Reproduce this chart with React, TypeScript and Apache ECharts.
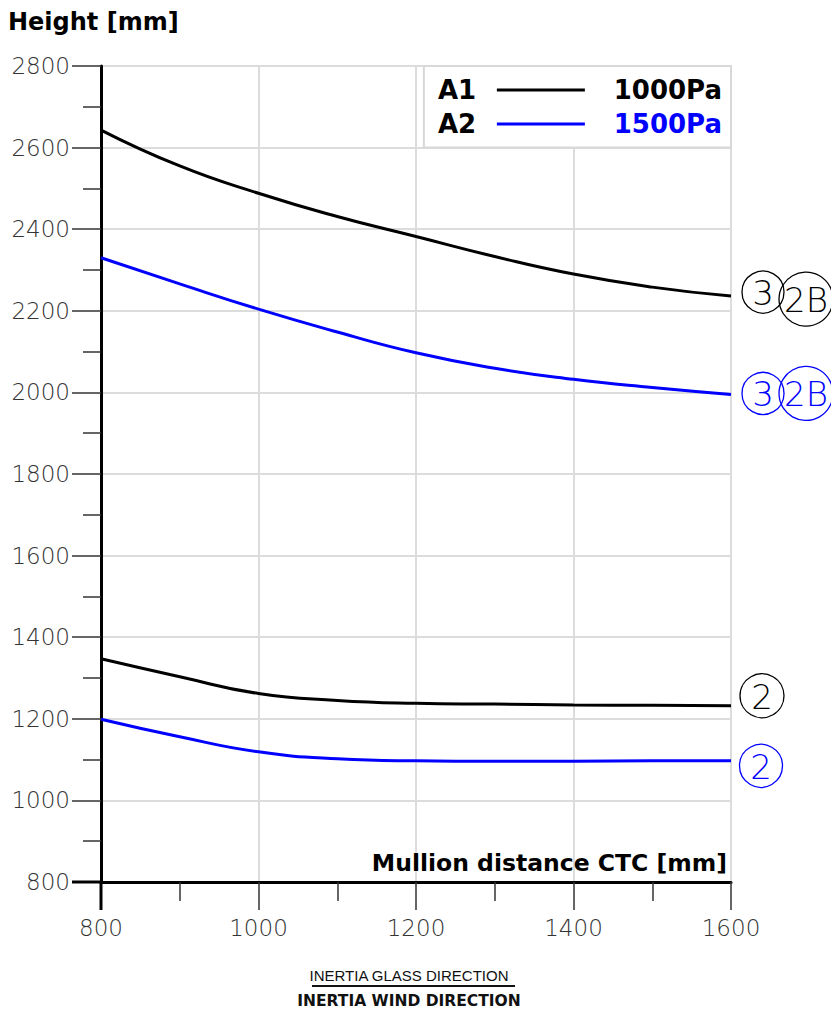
import React, { useEffect, useRef } from "react";
import * as echarts from "echarts";

const X_VALUES = [800, 900, 1000, 1100, 1200, 1300, 1400, 1500, 1600];
const A1_3_2B = [2643, 2555, 2488, 2431, 2382, 2333, 2290, 2258, 2236];
const A2_3_2B = [2330, 2266, 2204, 2148, 2097, 2059, 2032, 2012, 1995];
const A1_2 = [1347, 1303, 1262, 1245, 1238, 1236, 1234, 1233, 1232];
const A2_2 = [1199, 1156, 1119, 1102, 1097, 1096, 1096, 1097, 1097];

const BLACK = "#000000";
const BLUE = "#0000ff";

const LEGEND_ROWS = [
  { name: "A1", value: "1000Pa", color: BLACK },
  { name: "A2", value: "1500Pa", color: BLUE },
];

const END_TAGS = [
  { data: A1_3_2B, color: BLACK, tags: [{ t: "3", dx: 32, dy: -4, r: 21 }, { t: "2B", dx: 75, dy: 3, r: 27 }] },
  { data: A2_3_2B, color: BLUE, tags: [{ t: "3", dx: 32, dy: -1, r: 21 }, { t: "2B", dx: 75, dy: -1, r: 27 }] },
  { data: A1_2, color: BLACK, tags: [{ t: "2", dx: 31, dy: -10, r: 22 }] },
  { data: A2_2, color: BLUE, tags: [{ t: "2", dx: 30, dy: 5, r: 21.5 }] },
];

const TICK_FONT = "'DejaVu Sans', sans-serif";
const BOLD_FONT = "'DejaVu Sans', Verdana, sans-serif";

export default function App() {
  const ref = useRef<HTMLDivElement>(null);
  useEffect(() => {
    if (!ref.current) return;
    const chart = echarts.init(ref.current, undefined, { renderer: "svg" });
    const mk = (data: number[], color: string) => ({
      type: "line",
      data: X_VALUES.map((x, i) => [x, data[i]]),
      smooth: 0.5,
      symbol: "none",
      lineStyle: { color, width: 3 },
      z: 5,
    });
    const axisCommon = {
      type: "value",
      axisLine: { show: true, onZero: false, lineStyle: { color: "#000", width: 3 } },
      axisTick: { show: true, lineStyle: { color: "#333", width: 1.5 } },
      minorTick: { show: true, splitNumber: 2, lineStyle: { color: "#333", width: 1.5 } },
      splitLine: { show: true, lineStyle: { color: "#dcdcdc", width: 2 } },
      minorSplitLine: { show: false },
      axisLabel: {
        color: "#333",
        fontFamily: TICK_FONT,
        fontWeight: 200,
        fontSize: 23,
        formatter: (v: number) => String(v),
      },
    };
    chart.setOption({
      animation: false,
      backgroundColor: "#fff",
      grid: { left: 101, right: 100, top: 66, bottom: 127, containLabel: false },
      xAxis: {
        ...axisCommon,
        min: 800,
        max: 1600,
        interval: 200,
        axisTick: { ...axisCommon.axisTick, length: 28 },
        minorTick: { ...axisCommon.minorTick, length: 19 },
        axisLabel: { ...axisCommon.axisLabel, margin: 34 },
      },
      yAxis: {
        ...axisCommon,
        min: 800,
        max: 2800,
        interval: 200,
        axisTick: { ...axisCommon.axisTick, length: 29 },
        minorTick: { ...axisCommon.minorTick, length: 18 },
        axisLabel: { ...axisCommon.axisLabel, margin: 31 },
      },
      series: [mk(A1_3_2B, BLACK), mk(A2_3_2B, BLUE), mk(A1_2, BLACK), mk(A2_2, BLUE)],
    });

    const px = (x: number, y: number) => chart.convertToPixel({ gridIndex: 0 }, [x, y]) as number[];
    const graphics: any[] = [];
    const origin = px(800, 800);
    const topRight = px(1600, 2800);
    graphics.push({ type: "line", shape: { x1: origin[0] - 29, y1: origin[1], x2: origin[0], y2: origin[1] }, style: { stroke: "#000", lineWidth: 3 }, z: 10 });
    graphics.push({ type: "line", shape: { x1: origin[0], y1: origin[1], x2: origin[0], y2: origin[1] + 28 }, style: { stroke: "#000", lineWidth: 3 }, z: 10 });

    const lb1 = px(1210, 2800);
    const lb2 = px(1600, 2600);
    graphics.push({
      type: "rect",
      shape: { x: lb1[0], y: lb1[1], width: lb2[0] - lb1[0], height: lb2[1] - lb1[1] },
      style: { fill: "#fff", stroke: "#d8d8d8", lineWidth: 2 },
      z: 20,
    });
    LEGEND_ROWS.forEach((row, i) => {
      const cy = lb1[1] + 24 + i * 34;
      graphics.push({ type: "text", x: lb1[0] + 14, y: cy, style: { text: row.name, fill: BLACK, font: `bold 26px ${BOLD_FONT}`, textVerticalAlign: "middle" }, z: 21 });
      graphics.push({ type: "line", shape: { x1: lb1[0] + 73, y1: cy, x2: lb1[0] + 161, y2: cy }, style: { stroke: row.color, lineWidth: 3 }, z: 21 });
      graphics.push({ type: "text", x: lb2[0] - 9, y: cy, style: { text: row.value, fill: row.color, font: `bold 26px ${BOLD_FONT}`, textAlign: "right", textVerticalAlign: "middle" }, z: 21 });
    });

    END_TAGS.forEach((s) => {
      const end = px(X_VALUES[X_VALUES.length - 1], s.data[s.data.length - 1]);
      s.tags.forEach((tg) => {
        const cx = end[0] + tg.dx;
        const cy = end[1] + tg.dy;
        graphics.push({ type: "circle", shape: { cx, cy, r: tg.r }, style: { fill: "none", stroke: s.color, lineWidth: 1.3 }, z: 22 });
        graphics.push({ type: "text", x: cx, y: cy + 1, style: { text: tg.t, fill: s.color, font: `200 34px ${TICK_FONT}`, textAlign: "center", textVerticalAlign: "middle" }, z: 23 });
      });
    });

    graphics.push({ type: "text", x: 8, y: 22, style: { text: "Height [mm]", fill: BLACK, font: `bold 24px ${BOLD_FONT}`, textVerticalAlign: "middle" }, z: 30 });
    graphics.push({ type: "text", x: topRight[0] - 4, y: origin[1] - 19, style: { text: "Mullion distance CTC [mm]", fill: BLACK, font: `bold 23.5px ${BOLD_FONT}`, textAlign: "right", textVerticalAlign: "middle" }, z: 30 });

    graphics.push({ type: "text", x: 409, y: 975, style: { text: "INERTIA GLASS DIRECTION", fill: "#111", font: `15px 'Liberation Sans', Arial, sans-serif`, textAlign: "center", textVerticalAlign: "middle" }, z: 30 });
    graphics.push({ type: "line", shape: { x1: 312, y1: 986, x2: 515, y2: 986 }, style: { stroke: "#111", lineWidth: 2 }, z: 30 });
    graphics.push({ type: "text", x: 409, y: 1001, style: { text: "INERTIA WIND DIRECTION", fill: "#111", font: `bold 15.5px ${BOLD_FONT}`, textAlign: "center", textVerticalAlign: "middle" }, z: 30 });

    chart.setOption({ graphic: { elements: graphics } });
    return () => chart.dispose();
  }, []);
  return <div ref={ref} style={{ position: "absolute", left: 0, top: 0, width: 831, height: 1009 }} />;
}
